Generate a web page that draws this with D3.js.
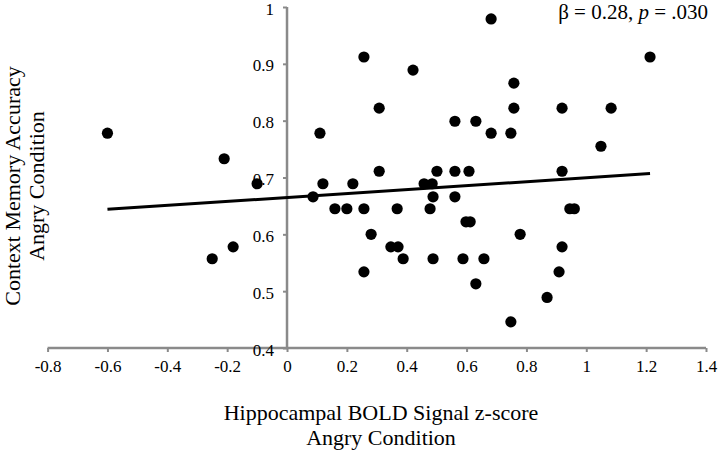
<!DOCTYPE html>
<html>
<head>
<meta charset="utf-8">
<script src="https://cdn.jsdelivr.net/npm/d3@7"></script>
<style>
  html, body { margin: 0; padding: 0; background: #fff; }
  svg { display: block; font-family: "Liberation Serif", "Times New Roman", serif; }
  svg text { font-family: "Liberation Serif", "Times New Roman", serif; }
</style>
</head>
<body>
<svg id="chart" width="720" height="452"></svg>
<script>
// ---- data ----
const xValues = [-0.60, -0.21, -0.25, -0.18, -0.10, 0.087, 0.110, 0.120, 0.160, 0.200,
  0.220, 0.257, 0.257, 0.257, 0.281, 0.308, 0.308, 0.347, 0.371, 0.368,
  0.388, 0.421, 0.458, 0.485, 0.478, 0.488, 0.488, 0.501, 0.561, 0.561,
  0.561, 0.588, 0.598, 0.612, 0.608, 0.631, 0.631, 0.658, 0.682, 0.682,
  0.748, 0.758, 0.758, 0.779, 0.748, 0.869, 0.909, 0.919, 0.919, 0.919,
  0.945, 0.960, 1.049, 1.083, 1.213];
const yValues = [0.778, 0.733, 0.557, 0.578, 0.689, 0.666, 0.778, 0.689, 0.645, 0.645,
  0.689, 0.912, 0.645, 0.534, 0.600, 0.822, 0.711, 0.578, 0.578, 0.645,
  0.557, 0.889, 0.689, 0.689, 0.645, 0.666, 0.557, 0.711, 0.799, 0.711,
  0.666, 0.557, 0.622, 0.622, 0.711, 0.799, 0.513, 0.557, 0.979, 0.778,
  0.778, 0.866, 0.822, 0.600, 0.446, 0.489, 0.534, 0.822, 0.711, 0.578,
  0.645, 0.645, 0.755, 0.822, 0.912];
const fitX = [-0.60, 1.213];
const fitY = [0.644, 0.707];
const xTicks = [-0.8, -0.6, -0.4, -0.2, 0, 0.2, 0.4, 0.6, 0.8, 1, 1.2, 1.4];
const yTicks = [0.4, 0.5, 0.6, 0.7, 0.8, 0.9, 1];
const xTitle = ["Hippocampal BOLD Signal z-score", "Angry Condition"];
const yTitle = ["Context Memory Accuracy", "Angry Condition"];

// ---- chart ----
const svg = d3.select("#chart");
const x = d3.scaleLinear().domain([-0.8, 1.4]).range([47.6, 706]);
const y = d3.scaleLinear().domain([0.4, 1]).range([348, 7]);
const axisColor = "#8a8a8a";
const serif = "Liberation Serif";

// x axis
const gx = svg.append("g").attr("transform", `translate(0,${y(0.4)})`)
  .call(d3.axisBottom(x).tickValues(xTicks).tickSize(4).tickPadding(8).tickFormat(d => String(d)))
  .attr("font-family", serif).attr("font-size", 17);
gx.select(".domain").attr("stroke", axisColor).attr("stroke-width", 2.5)
  .attr("d", `M${x(-0.8)},0H${x(1.4)}`);
gx.selectAll(".tick line").attr("stroke", axisColor).attr("stroke-width", 2);
gx.selectAll(".tick text").attr("fill", "#000");

// y axis (at x = 0)
const gy = svg.append("g").attr("transform", `translate(${x(0)},0)`)
  .call(d3.axisLeft(y).tickValues(yTicks).tickSize(4).tickPadding(9).tickFormat(d => String(d)))
  .attr("font-family", serif).attr("font-size", 17);
gy.select(".domain").attr("stroke", axisColor).attr("stroke-width", 2.5)
  .attr("d", `M0,${y(1)}V${y(0.4)}`);
gy.selectAll(".tick line").attr("stroke", axisColor).attr("stroke-width", 2);
gy.selectAll(".tick text").attr("fill", "#000").attr("dy", "0.42em");

// regression line
svg.append("line")
  .attr("x1", x(fitX[0])).attr("y1", y(fitY[0]))
  .attr("x2", x(fitX[1])).attr("y2", y(fitY[1]))
  .attr("stroke", "#000").attr("stroke-width", 3);

// points
svg.append("g").selectAll("circle")
  .data(d3.range(xValues.length))
  .join("circle")
  .attr("cx", i => x(xValues[i]))
  .attr("cy", i => y(yValues[i]))
  .attr("r", 5.6)
  .attr("fill", "#000");

// axis titles
const xt = svg.append("text").attr("text-anchor", "middle")
  .attr("font-family", serif).attr("font-size", 22).attr("fill", "#000");
xt.append("tspan").attr("x", 381).attr("y", 420).text(xTitle[0]);
xt.append("tspan").attr("x", 381).attr("y", 445).text(xTitle[1]);

const yt = svg.append("text").attr("text-anchor", "middle")
  .attr("transform", "translate(0,186) rotate(-90)")
  .attr("font-family", serif).attr("font-size", 22).attr("fill", "#000");
yt.append("tspan").attr("x", 0).attr("y", 20).text(yTitle[0]);
yt.append("tspan").attr("x", 0).attr("y", 44).text(yTitle[1]);

// annotation
const ann = svg.append("text").attr("text-anchor", "end")
  .attr("x", 708).attr("y", 19).attr("font-family", serif).attr("font-size", 21).attr("fill", "#000");
ann.append("tspan").text("β = 0.28, ");
ann.append("tspan").style("font-style", "italic").text("p");
ann.append("tspan").text(" = .030");
</script>
</body>
</html>
